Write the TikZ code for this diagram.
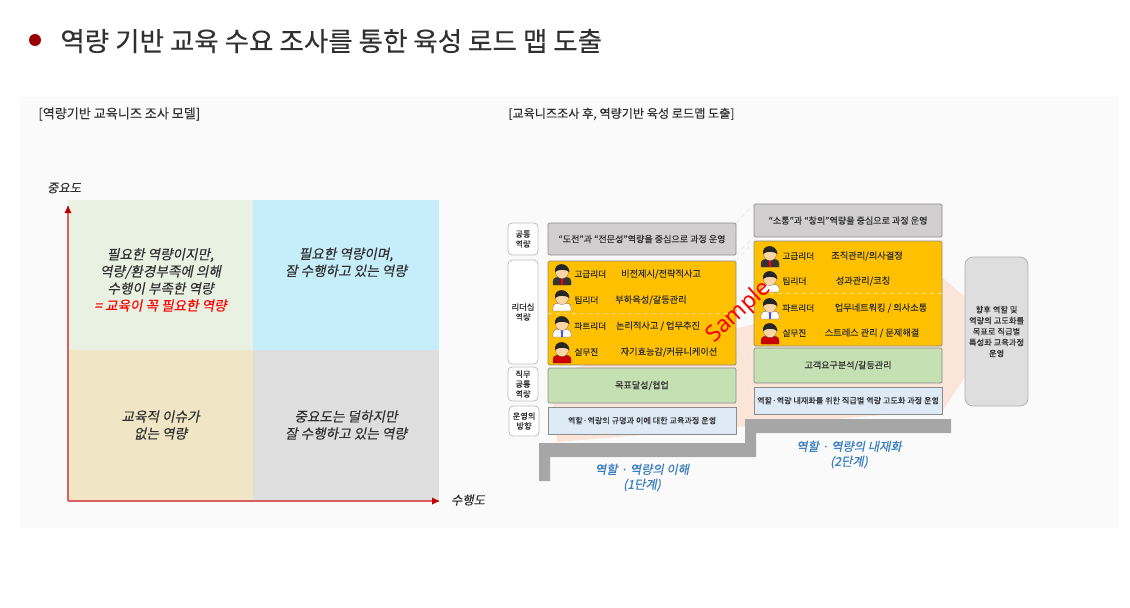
\documentclass[tikz,border=0pt]{standalone}
\usepackage{fontspec}
\setmainfont[FakeBold=0.25]{Noto Sans CJK KR}
\newfontfamily\krslant[FakeSlant=0.2,FakeBold=0.25]{Noto Sans CJK KR}
\newfontfamily\latinsans{Noto Sans}
\definecolor{panelbg}{HTML}{FAFAFA}
\definecolor{peach}{HTML}{FBE5D9}
\definecolor{quadgreen}{HTML}{E9F1E3}
\definecolor{quadblue}{HTML}{C6EEFA}
\definecolor{quadsand}{HTML}{F0E6C6}
\definecolor{quadgray}{HTML}{DEDEDE}
\definecolor{boxgray}{HTML}{D0CECE}
\definecolor{boxorange}{HTML}{FFC000}
\definecolor{boxgreen}{HTML}{C5E0B3}
\definecolor{boxblue}{HTML}{DEEAF6}
\definecolor{stairgray}{HTML}{A6A6A6}
\definecolor{axisred}{HTML}{D96060}
\definecolor{textgray}{HTML}{303030}
\definecolor{stepblue}{HTML}{3A7FC1}
\definecolor{skin}{HTML}{FBD5A5}
\definecolor{hair}{HTML}{262626}
\definecolor{suit}{HTML}{333333}

\begin{document}
\begin{tikzpicture}[x=.75pt, y=-.75pt, line width=.6pt, text=textgray,
    wh/.style 2 args={minimum width=#1*.75pt, minimum height=#2*.75pt, inner sep=0pt, outer sep=0pt, align=center},
    quad/.style={wh={185}{150}, font=\krslant\fontsize{10.2}{12.8}\selectfont},
    plainbox/.style={draw=black!45, font=\fontsize{6.8}{8.2}\selectfont},
    sidebox/.style={draw=black!25, fill=white, rounded corners=3pt, font=\fontsize{6.2}{7.4}\selectfont},
    role/.style={anchor=west, inner sep=0pt, font=\fontsize{6.5}{8}\selectfont},
    skill/.style={inner sep=0pt, font=\fontsize{6.9}{8}\selectfont},
    stage/.style={align=center, inner sep=0pt, text=stepblue, font=\krslant\fontsize{9.2}{11.2}\selectfont},
    axislabel/.style={inner sep=0pt, font=\krslant\fontsize{9.2}{11}\selectfont},
    link/.style={draw=black!10, dashed, line width=.4pt},
    person/.pic={
        \fill[\shirt, draw=black!70, line width=.2pt] (-9,11) -- (-9,7) .. controls (-9,3) and (-4,3) .. (0,3) .. controls (4,3) and (9,3) .. (9,7) -- (9,11) -- cycle;
        \fill[\tie] (-1.3,3) -- (1.3,3) -- (.8,11) -- (-.8,11) -- cycle;
        \fill[skin, draw=black!60, line width=.2pt] (0,-2) ellipse (6.5 and 6.5);
        \fill[hair] (-7,-2) .. controls (-8.5,-12) and (6.5,-13) .. (7.5,-2) .. controls (3,-5) and (-3,-5) .. (-7,-2) -- cycle;
    }]
    \useasboundingbox (0,0) rectangle (1130,607);

    % Title.
    \fill[red!60!black] (35,40) circle (6);
    \node[anchor=west, inner sep=0pt, font=\fontsize{19.9}{24}\selectfont] (title) at (60,41) {역량 기반 교육 수요 조사를 통한 육성 로드 맵 도출};

    % Background.
    \fill[panelbg] (20,97) rectangle (1118,528);
    \fill[peach] (550,374) -- (943,278) -- (965,297) -- (965,377) -- (943,410) -- (557,442) -- cycle;
    \fill[stairgray] (539,481) -- (550,481) -- (550,457) -- (756,457) -- (756,433) -- (951,433) -- (951,419) -- (745,419) -- (745,443) -- (539,443) -- cycle;

    \node[anchor=west, inner sep=0pt, font=\fontsize{9.8}{12}\selectfont] (headleft) at (38,114) {[역량기반 교육니즈 조사 모델]};
    \node[anchor=west, inner sep=0pt, font=\fontsize{9.1}{12}\selectfont] (headright) at (508,114) {[교육니즈조사 후, 역량기반 육성 로드맵 도출]};

    % Quadrants.
    \node[quad, fill=quadgreen] (q1) at (160.5,275) {\\[3pt]필요한 역량이지만,\\역량/환경부족에 의해\\수행이 부족한 역량\\{\color{red}= 교육이 꼭 필요한 역량}};
    \node[quad, fill=quadblue, wh={186}{150}] (q2) at (346,275) {필요한 역량이며,\\잘 수행하고 있는 역량\\[7pt]};
    \node[quad, fill=quadsand] (q3) at (160.5,425) {교육적 이슈가\\없는 역량};
    \node[quad, fill=quadgray, wh={186}{150}] (q4) at (346,425) {중요도는 덜하지만\\잘 수행하고 있는 역량};

    \coordinate (origin) at (68,501);
    \coordinate (ytip) at (68,206);
    \coordinate (xtip) at (439,501);
    \draw[axisred, line width=1.8pt] (origin) -- (ytip);
    \draw[axisred, line width=1.8pt] (origin) -- (xtip);
    \fill[red!75!black] (ytip) -- ++(3.5,7) -- ++(-7,0) -- cycle;
    \fill[red!75!black] (xtip) -- ++(-7,-3.5) -- ++(0,7) -- cycle;
    \node[axislabel] (ylabel) at (64,188) {중요도};
    \node[axislabel] (xlabel) at (468,500) {수행도};

    % Stage 1.
    \node[sidebox, wh={30}{32}] (side1) at (523,239) {공통\\역량};
    \node[sidebox, wh={30}{104}] (side2) at (523,312) {리더십\\역량};
    \node[sidebox, wh={30}{34}] (side3) at (523,384) {직무\\공통\\역량};
    \node[sidebox, wh={30}{30}] (side4) at (524,421) {운영의\\방향};

    \node[plainbox, wh={188}{32}, fill=boxgray, rounded corners=1pt] (graya) at (642,239) {“도전”과 “전문성”역량을 중심으로 과정 운영};
    \node[plainbox, wh={188}{104}, fill=boxorange, rounded corners=1pt] (orangea) at (642,313) {};
    \node[plainbox, wh={188}{35}, fill=boxgreen, rounded corners=1pt] (greena) at (642,385.5) {목표달성/협업};
    \node[plainbox, wh={188}{27}, fill=boxblue, font=\fontsize{6.1}{8}\selectfont] (bluea) at (642,420.5) {역할·역량의 규명과 이에 대한 교육과정 운영};
    \draw[white!45!boxorange, dashed, line width=.2pt] (orangea.west) -- (orangea.east);

    \foreach \i/\y/\rolename/\skillname/\sx/\shirt/\tie in {
        1/274/고급리더/{비전제시/전략적사고}/661/suit/red,
        2/300/팀리더/{부하육성/갈등관리}/651/white/white,
        3/326/파트리더/{논리적사고 / 업무추진}/658/white/blue!70!white,
        4/352/실무진/{자기효능감/커뮤니케이션}/669/red!80!black/red!80!black}
    {
        \pic at (562,\y) {person};
        \node[role] (rolea\i) at (574,\y) {\rolename};
        \node[skill] (skilla\i) at (\sx,\y) {\skillname};
    }

    % Stage 2.
    \node[plainbox, wh={188}{33}, fill=boxgray, rounded corners=1pt] (grayb) at (848,220.5) {“소통”과 “창의”역량을 중심으로 과정 운영};
    \node[plainbox, wh={188}{105}, fill=boxorange, rounded corners=1pt] (orangeb) at (848,293.5) {};
    \node[plainbox, wh={188}{35}, fill=boxgreen, rounded corners=1pt] (greenb) at (848,365.5) {고객요구분석/갈등관리};
    \node[plainbox, wh={188}{27}, fill=boxblue, font=\fontsize{6.1}{8}\selectfont] (blueb) at (848,400.5) {역할·역량 내재화를 위한 직급별 역량 고도화 과정 운영};
    \draw[white!45!boxorange, dashed, line width=.2pt] (orangeb.west) -- (orangeb.east);

    \foreach \i/\y/\rolename/\skillname/\sx/\shirt/\tie in {
        1/256/고급리더/{조직관리/의사결정}/867/suit/red,
        2/281/팀리더/{성과관리/코칭}/863/white/white,
        3/308/파트리더/{업무네트워킹 / 의사소통}/881/white/blue!70!white,
        4/333/실무진/{스트레스 관리 / 문제해결}/872/red!80!black/red!80!black}
    {
        \pic at (770,\y) {person};
        \node[role] (roleb\i) at (782,\y) {\rolename};
        \node[skill] (skillb\i) at (\sx,\y) {\skillname};
    }

    \node[draw=black!30, fill=quadgray, rounded corners=6pt, wh={63}{149}, font=\fontsize{6.2}{8.2}\selectfont] (future) at (996.5,331.5) {향후 역할 및\\역량의 고도화를\\목표로 직급별\\특성화 교육과정\\운영};

    % Links.
    \foreach \a/\b in {graya/grayb, orangea/orangeb, greena/greenb}
    {
        \draw[link] (\a.north east) -- (\b.north west);
        \draw[link] (\a.south east) -- (\b.south west);
    }

    % Stages.
    \node[stage] (stagea) at (642,477.5) {역할 · 역량의 이해\\(1단계)};
    \node[stage] (stageb) at (849,454.5) {역할 · 역량의 내재화\\(2단계)};

    \node[rotate=43, text=red, inner sep=0pt, font=\latinsans\fontsize{17}{20}\selectfont] (sample) at (739,312) {Sample};
\end{tikzpicture}
\end{document}
